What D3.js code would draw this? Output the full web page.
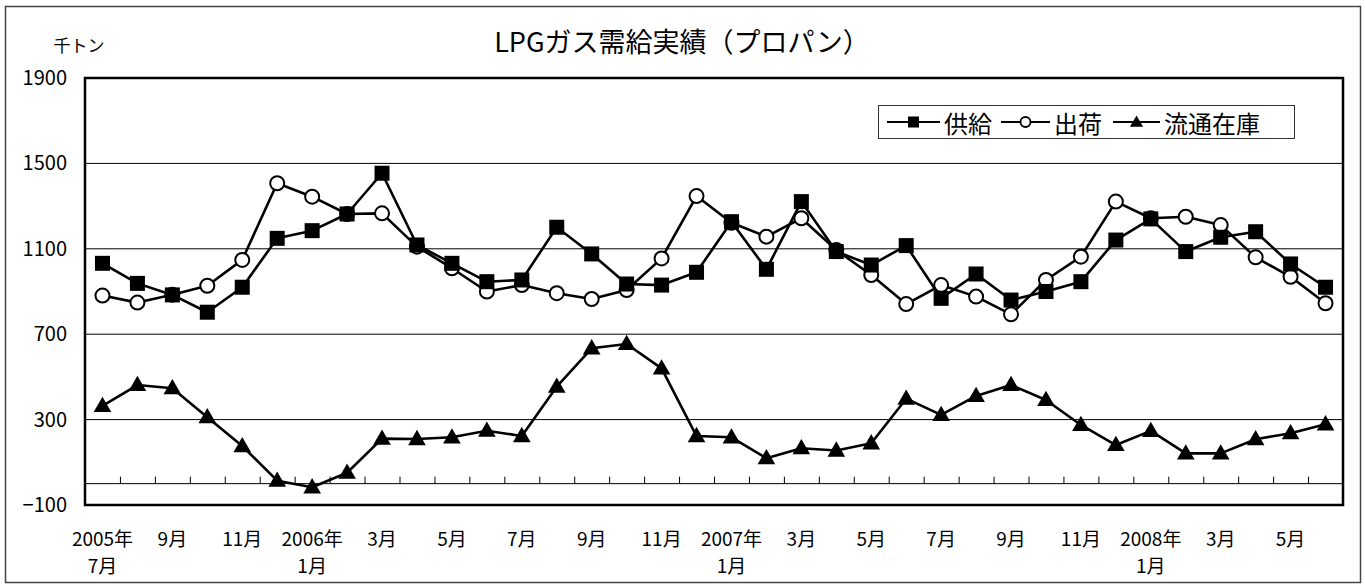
<!DOCTYPE html>
<html><head><meta charset="utf-8">
<script src="https://cdn.jsdelivr.net/npm/d3@7"></script>
<style>
html,body{margin:0;padding:0;background:#fff;}
svg{display:block;font-family:"Noto Sans CJK JP","Noto Sans",sans-serif;}
</style></head>
<body>
<svg id="chart" width="1365" height="585"></svg>
<script>
const categories = ["2005年7月","8月","9月","10月","11月","12月",
  "2006年1月","2月","3月","4月","5月","6月","7月","8月","9月","10月","11月","12月",
  "2007年1月","2月","3月","4月","5月","6月","7月","8月","9月","10月","11月","12月",
  "2008年1月","2月","3月","4月","5月","6月"];
const supply = [1032, 938, 884, 803, 920, 1149, 1185, 1263, 1454, 1118, 1032, 946,
  954, 1201, 1076, 935, 930, 990, 1227, 1004, 1321, 1087, 1024, 1115,
  868, 982, 860, 900, 946, 1141, 1240, 1087, 1154, 1180, 1029, 920];
const shipments = [881, 848, 885, 927, 1048, 1407, 1344, 1263, 1266, 1110, 1009, 900,
  930, 892, 865, 907, 1055, 1347, 1222, 1157, 1243, 1094, 977, 841,
  930, 876, 793, 954, 1063, 1321, 1243, 1250, 1211, 1060, 969, 845];
const inventory = [364, 462, 447, 311, 176, 14, -17, 51, 211, 209, 217, 248,
  223, 454, 634, 654, 540, 223, 217, 119, 166, 155, 189, 398,
  322, 411, 462, 392, 275, 181, 247, 142, 142, 208, 236, 278];
const yTicks = [1900, 1500, 1100, 700, 300, -100];
const gridValues = [1500, 1100, 700, 300];
const seriesNames = ["供給", "出荷", "流通在庫"];
const title = "LPGガス需給実績（プロパン）";
const unit = "千トン";

const svg = d3.select("#chart");
const L = 85, R = 1343, T = 78, B = 505;
const x = d3.scaleBand().domain(d3.range(categories.length)).range([L, R]);
const cx = i => x(i) + x.bandwidth() / 2;
const y = d3.scaleLinear().domain([-100, 1900]).range([B, T]);
const FONT = "Noto Sans CJK JP";

// outer frame
svg.append("rect").attr("x", 5.5).attr("y", 6.5).attr("width", 1355).attr("height", 576)
  .attr("fill", "#fff").attr("stroke", "#444").attr("stroke-width", 1.5);

// title & unit
svg.append("text").attr("x", 682).attr("y", 40).attr("text-anchor", "middle")
  .attr("dominant-baseline", "central").attr("font-size", 27).text(title);
svg.append("text").attr("x", 79).attr("y", 44).attr("text-anchor", "middle")
  .attr("dominant-baseline", "central").attr("font-size", 17).text(unit);

// gridlines
svg.append("g").selectAll("line").data(gridValues).join("line")
  .attr("x1", L).attr("x2", R).attr("y1", d => y(d)).attr("y2", d => y(d))
  .attr("stroke", "#000").attr("stroke-width", 1);

// zero axis line with ticks at band boundaries
const bx = d3.scaleLinear().domain([0, categories.length]).range([L, R]);
const zeroAxis = svg.append("g").attr("transform", `translate(0,${y(0)})`)
  .call(d3.axisTop(bx).tickValues(d3.range(1, categories.length)).tickSize(7).tickFormat(""));
zeroAxis.select(".domain").remove();
zeroAxis.selectAll(".tick line").attr("stroke", "#000");
svg.append("line").attr("x1", L).attr("x2", R).attr("y1", y(0)).attr("y2", y(0))
  .attr("stroke", "#000").attr("stroke-width", 1);

// y axis labels
const yAxis = svg.append("g").attr("transform", `translate(${L},0)`)
  .call(d3.axisLeft(y).tickValues(yTicks).tickSize(0).tickPadding(18).tickFormat(d => d < 0 ? "−" + Math.abs(d) : d));
yAxis.select(".domain").remove();
yAxis.selectAll("text").attr("font-size", 20).attr("font-family", FONT).attr("fill", "#000");

// x axis labels (two-line labels for January / first month)
const xAxis = svg.append("g").attr("transform", `translate(0,${B})`)
  .call(d3.axisBottom(x).tickSize(0).tickFormat(""));
xAxis.select(".domain").remove();
xAxis.selectAll(".tick").each(function (d) {
  if (d % 2 !== 0) return;
  const lab = categories[d];
  const g = d3.select(this);
  const k = lab.indexOf("年");
  const lines = k >= 0 ? [lab.slice(0, k + 1), lab.slice(k + 1)] : [lab];
  lines.forEach((s, j) => {
    g.append("text").attr("fill", "#000").attr("font-size", 19)
      .attr("font-family", FONT).attr("text-anchor", "middle")
      .attr("x", 0).attr("y", 32 + j * 27).attr("dominant-baseline", "central").text(s);
  });
});

// plot border
svg.append("rect").attr("x", L).attr("y", T).attr("width", R - L).attr("height", B - T)
  .attr("fill", "none").attr("stroke", "#000").attr("stroke-width", 2.5);

// series
const line = d3.line().x((d, i) => cx(i)).y(d => y(d));
const tri = d3.symbol().type(d3.symbolTriangle);
function drawSeries(data, kind) {
  svg.append("path").datum(data).attr("d", line).attr("fill", "none")
    .attr("stroke", "#000").attr("stroke-width", 2.6).attr("stroke-linejoin", "round");
  const g = svg.append("g");
  if (kind === "square") {
    g.selectAll("rect").data(data).join("rect")
      .attr("x", (d, i) => cx(i) - 7.5).attr("y", d => y(d) - 7.5)
      .attr("width", 15).attr("height", 15).attr("fill", "#000");
  } else if (kind === "circle") {
    g.selectAll("circle").data(data).join("circle")
      .attr("cx", (d, i) => cx(i)).attr("cy", d => y(d)).attr("r", 7)
      .attr("fill", "#fff").attr("stroke", "#000").attr("stroke-width", 2);
  } else {
    g.selectAll("path").data(data).join("path")
      .attr("transform", (d, i) => `translate(${cx(i)},${y(d) + 1})`)
      .attr("d", tri.size(135)()).attr("fill", "#000");
  }
}
drawSeries(inventory, "triangle");
drawSeries(shipments, "circle");
drawSeries(supply, "square");

// legend
const lg = svg.append("g");
lg.append("rect").attr("x", 878.5).attr("y", 105.5).attr("width", 416).attr("height", 33)
  .attr("fill", "#fff").attr("stroke", "#333").attr("stroke-width", 1);
const items = [
  { name: seriesNames[0], kind: "square", x0: 887, x1: 940, tx: 944 },
  { name: seriesNames[1], kind: "circle", x0: 1001, x1: 1050, tx: 1054 },
  { name: seriesNames[2], kind: "triangle", x0: 1113, x1: 1160, tx: 1164 }
];
const ly = 122;
items.forEach(it => {
  lg.append("line").attr("x1", it.x0).attr("x2", it.x1).attr("y1", ly).attr("y2", ly)
    .attr("stroke", "#000").attr("stroke-width", 2);
  const mx = (it.x0 + it.x1) / 2;
  if (it.kind === "square") {
    lg.append("rect").attr("x", mx - 5.5).attr("y", ly - 5.5).attr("width", 11).attr("height", 11).attr("fill", "#000");
  } else if (it.kind === "circle") {
    lg.append("circle").attr("cx", mx).attr("cy", ly).attr("r", 5).attr("fill", "#fff")
      .attr("stroke", "#000").attr("stroke-width", 1.8);
  } else {
    lg.append("path").attr("transform", `translate(${mx},${ly + 1})`).attr("d", tri.size(75)()).attr("fill", "#000");
  }
  lg.append("text").attr("x", it.tx).attr("y", ly).attr("dominant-baseline", "central")
    .attr("font-size", 24).text(it.name);
});
</script>
</body></html>
